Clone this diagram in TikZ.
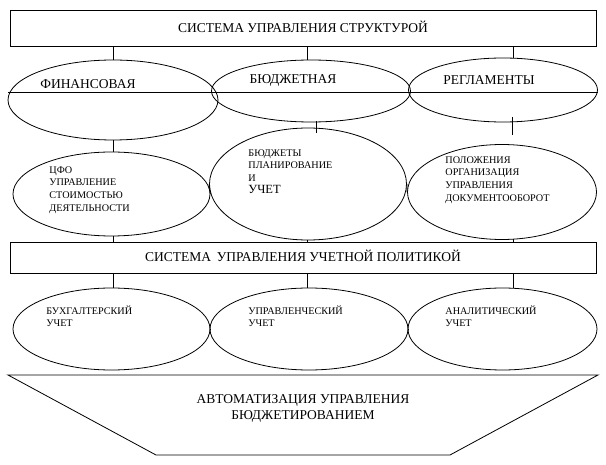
\documentclass[tikz,border=0pt]{standalone}
\usepackage{fontspec}
\setmainfont{Liberation Serif}
\usetikzlibrary{shapes.geometric,positioning}
\tikzset{
  oval/.style={draw,ellipse,inner sep=0pt},
  bar/.style={draw,rectangle,inner sep=0pt},
  small/.style={font=\fontsize{10.2}{12.8}\selectfont,align=left,anchor=north west,inner sep=0pt},
  big/.style={font=\fontsize{13.5}{16}\selectfont,inner sep=0pt}
}
\begin{document}
\begin{tikzpicture}[x=1pt,y=-1pt,line width=0.8pt]
\useasboundingbox (0,0) rectangle (606,465);
% top bar
  \node[bar,minimum width=586pt,minimum height=36pt] (top) at (303,28) {};
  \node[big] at (303,27) {СИСТЕМА УПРАВЛЕНИЯ СТРУКТУРОЙ};
% first row of ovals
  \node[oval,minimum width=210pt,minimum height=80pt] (fin) at (113,100) {};
  \node[oval,minimum width=199pt,minimum height=62pt] (bud) at (311,91) {};
  \node[oval,minimum width=189pt,minimum height=64pt] (reg) at (503,90) {};
  \draw (8,92) -- (598,92);
  \node[big] at (88,84) {ФИНАНСОВАЯ};
  \node[big] at (293,80) {БЮДЖЕТНАЯ};
  \node[big] at (489,80) {РЕГЛАМЕНТЫ};
  \draw (top.south -| fin.south) -- (fin.north);
  \draw (top.south -| 307,0) -- (307,60.2);
  \draw (top.south -| 513,0) -- (513,58.5);
% second row of ovals
  \node[oval,minimum width=197pt,minimum height=84pt] (cfo) at (111.5,194) {};
  \node[oval,minimum width=197pt,minimum height=112pt] (plan) at (308,184) {};
  \node[oval,minimum width=189pt,minimum height=95pt] (doc) at (502,192) {};
  \node[small] at (49,166) {ЦФО\\УПРАВЛЕНИЕ\\СТОИМОСТЬЮ\\ДЕЯТЕЛЬНОСТИ};
  \node[small] at (248,149) {БЮДЖЕТЫ\\ПЛАНИРОВАНИЕ\\И\\[-1pt]{\fontsize{12.5}{12}\selectfont УЧЕТ}};
  \node[small] at (445,156) {ПОЛОЖЕНИЯ\\ОРГАНИЗАЦИЯ\\УПРАВЛЕНИЯ\\ДОКУМЕНТООБОРОТ};
  \draw (fin.south) -- (fin.south |- cfo.north);
  \draw (316,121.5) -- (316,133);
  \draw (512,117) -- (512,135);
  \draw (cfo.east) -- (plan.west);
  \draw (plan.east) -- (doc.west);
% middle bar
  \node[bar,minimum width=586pt,minimum height=31pt] (pol) at (303,257.5) {};
  \node[big] at (303,256) {СИСТЕМА\, УПРАВЛЕНИЯ УЧЕТНОЙ ПОЛИТИКОЙ};
  \draw (113,235.8) -- (pol.north -| 113,0);
  \draw (307,239.9) -- (pol.north -| 307,0);
  \draw (513,239.3) -- (pol.north -| 513,0);
% third row of ovals
  \node[oval,minimum width=197pt,minimum height=82pt] (buh) at (111.5,329) {};
  \node[oval,minimum width=198pt,minimum height=82pt] (upr) at (309,329) {};
  \node[oval,minimum width=189pt,minimum height=82pt] (ana) at (502.5,329) {};
  \node[small] at (46,305) {БУХГАЛТЕРСКИЙ\\УЧЕТ};
  \node[small] at (248,305) {УПРАВЛЕНЧЕСКИЙ\\УЧЕТ};
  \node[small] at (445,305) {АНАЛИТИЧЕСКИЙ\\УЧЕТ};
  \draw (pol.south -| 113,0) -- (113,288.5);
  \draw (pol.south -| 307,0) -- (307,288.3);
  \draw (pol.south -| 513,0) -- (513,288.5);
  \draw (buh.east) -- (upr.west);
  \draw (upr.east) -- (ana.west);
% bottom trapezoid
  \draw (8,375) -- (598,375) -- (450,455) -- (156,455) -- cycle;
  \node[big,align=center] at (303,408) {АВТОМАТИЗАЦИЯ УПРАВЛЕНИЯ\\БЮДЖЕТИРОВАНИЕМ};
\end{tikzpicture}
\end{document}
